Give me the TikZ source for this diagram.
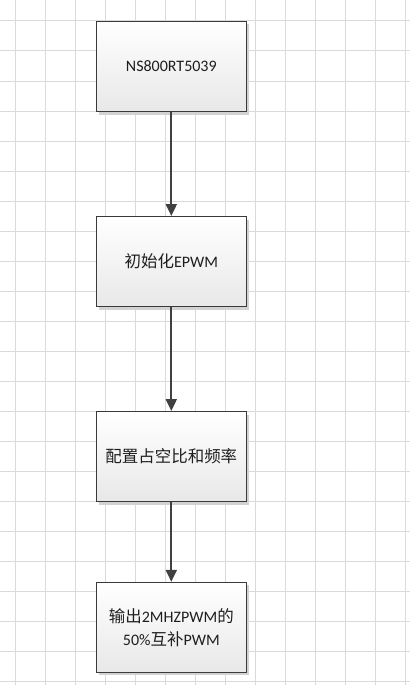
\documentclass[tikz,border=0pt]{standalone}
\usepackage{fontspec}
\setmainfont{Carlito}
\newfontfamily\cjk{Noto Sans CJK SC}[Scale=1.03]
\usetikzlibrary{arrows.meta,shadows}
\definecolor{gridc}{HTML}{DADADA}
\definecolor{edgec}{HTML}{3A3A3A}
\definecolor{arrc}{HTML}{404040}
\definecolor{txtc}{HTML}{1E1E1E}
\definecolor{botc}{HTML}{E8E8E8}
\definecolor{shadc}{HTML}{D2D2D2}
\tikzset{
  stepbox/.style={draw=edgec, line width=1pt, rectangle, minimum width=150pt, minimum height=90pt,
    top color=white, bottom color=botc, text=txtc, align=center,
    font=\fontsize{16}{23}\selectfont,
    drop shadow={shadow xshift=3pt, shadow yshift=-3pt, fill=shadc, opacity=1}},
  flow/.style={draw=arrc, line width=2pt, -{Triangle[width=11pt,length=12pt]}},
  gridline/.style={draw=gridc, line width=1pt}
}
\begin{document}
\begin{tikzpicture}[x=1pt,y=-1pt]
\useasboundingbox (0,0) rectangle (410,685);
\fill[white] (0,0) rectangle (410,685);
\foreach \i in {0,...,13} { \draw[gridline] (15+30*\i,0) -- (15+30*\i,685); }
\foreach \j in {0,...,22} { \draw[gridline] (0,21+30*\j) -- (410,21+30*\j); }
\node[stepbox] (a) at (171.3,66.5) {NS800RT5039};
\node[stepbox] (b) at (171.3,261.5) {{\cjk 初始化}EPWM};
\node[stepbox] (c) at (171.3,456.5) {{\cjk 配置占空比和频率}};
\node[stepbox] (d) at (171.3,627.3) {{\cjk 输出}2MHZPWM{\cjk 的}\\50\%{\cjk 互补}PWM};
\draw[flow] (a) -- (b);
\draw[flow] (b) -- (c);
\draw[flow] (c) -- (d);
\end{tikzpicture}
\end{document}
